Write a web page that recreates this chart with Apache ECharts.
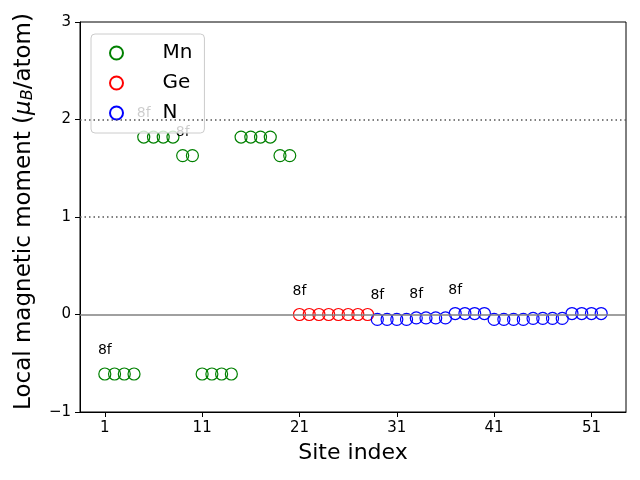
<!DOCTYPE html>
<html>
<head>
<meta charset="utf-8">
<script src="https://cdn.jsdelivr.net/npm/echarts@6/dist/echarts.min.js"></script>
<style>html,body{margin:0;padding:0;background:#fff}#c{width:640px;height:480px}</style>
</head>
<body>
<div id="c"></div>
<script>
var mnSites = [1,2,3,4,5,6,7,8,9,10,11,12,13,14,15,16,17,18,19,20];
var mnValues = [-0.61,-0.61,-0.61,-0.61,1.82,1.82,1.82,1.82,1.63,1.63,-0.61,-0.61,-0.61,-0.61,1.82,1.82,1.82,1.82,1.63,1.63];
var geSites = [21,22,23,24,25,26,27,28];
var geValues = [0,0,0,0,0,0,0,0];
var nSites = [29,30,31,32,33,34,35,36,37,38,39,40,41,42,43,44,45,46,47,48,49,50,51,52];
var nValues = [-0.05,-0.05,-0.05,-0.05,-0.035,-0.035,-0.035,-0.035,0.01,0.01,0.01,0.01,-0.05,-0.05,-0.05,-0.05,-0.04,-0.04,-0.04,-0.04,0.01,0.01,0.01,0.01];
var labelSites = [1,5,9,21,29,33,37];
var labelText = '8f';
var xTicks = [1,11,21,31,41,51];
var refLines = [1,2];

var FONT = 'DejaVu Sans';
function build(sites, vals){
  return sites.map(function(s,i){
    var d = {value:[s, vals[i]]};
    if (labelSites.indexOf(s) >= 0) {
      d.label = {show:true, formatter: labelText, position:'top', distance:10,
        color:'#000', fontSize:14, fontFamily:FONT, opacity:1};
    }
    return d;
  });
}
function ser(name, color, sites, vals, extra){
  var s = {
    name: name, type:'scatter', symbol:'circle', symbolSize:12,
    itemStyle:{color:'rgba(0,0,0,0)', borderColor:color, borderWidth:1.2, opacity:1},
    emphasis:{disabled:true},
    data: build(sites, vals)
  };
  if (extra) for (var k in extra) s[k] = extra[k];
  return s;
}
var chart = echarts.init(document.getElementById('c'), null, {renderer:'canvas'});
chart.setOption({
  animation:false,
  backgroundColor:'#fff',
  grid:{left:80, right:14, top:22, bottom:68, show:true, borderColor:'#000', borderWidth:1, backgroundColor:'transparent'},
  xAxis:{
    type:'value', min:-1.55, max:54.55,
    name:'Site index', nameLocation:'middle', nameGap:30,
    nameTextStyle:{fontSize:22, fontFamily:FONT, color:'#000'},
    axisLine:{show:true, onZero:false, lineStyle:{color:'#000', width:1}},
    axisTick:{show:true, length:5, lineStyle:{color:'#000'}, customValues:xTicks},
    axisLabel:{fontSize:15, fontFamily:FONT, color:'#000', margin:9, customValues:xTicks},
    splitLine:{show:false}
  },
  yAxis:{
    type:'value', min:-1, max:3, interval:1,
    name:'{n|Local magnetic moment (}{mu|μ}{sub|B}{n|/atom)}',
    nameLocation:'middle', nameGap:44, nameRotate:90,
    nameTextStyle:{fontSize:23, fontFamily:FONT, color:'#000', padding:[0,0,0,11],
      rich:{
        n:{fontSize:23, fontFamily:FONT, color:'#000', lineHeight:24, verticalAlign:'middle'},
        mu:{fontSize:23, fontFamily:FONT, fontStyle:'italic', color:'#000', lineHeight:24, verticalAlign:'middle'},
        sub:{fontSize:16, fontFamily:FONT, fontStyle:'italic', color:'#000', lineHeight:24, verticalAlign:'bottom', padding:[8,0,0,0]}
      }},
    axisLine:{show:true, onZero:false, lineStyle:{color:'#000', width:1}},
    axisTick:{show:true, length:5, lineStyle:{color:'#000'}},
    axisLabel:{fontSize:15, fontFamily:FONT, color:'#000', margin:9,
      formatter:function(v){ return v < 0 ? '\u2212' + Math.abs(v) : String(v); }},
    splitLine:{show:false}
  },
  legend:{
    orient:'vertical', left:91, top:34,
    data:['Mn','Ge','N'],
    itemWidth:24, itemHeight:13, itemGap:10,
    padding:[9,12,10,18],
    backgroundColor:'rgba(255,255,255,0.8)', borderColor:'#cccccc', borderWidth:1, borderRadius:4,
    textStyle:{fontSize:20, fontFamily:FONT, color:'#000', lineHeight:20, padding:[0,0,0,29]},
    selectedMode:false
  },
  series:[
    ser('Mn','#008000', mnSites, mnValues, {
      markLine:{
        silent:true, symbol:'none', label:{show:false}, animation:false,
        data:[
          {yAxis:0, lineStyle:{color:'#808080', width:1.5, type:'solid', opacity:1}}
        ].concat(refLines.map(function(v){ return {yAxis:v, lineStyle:{color:'#555555', width:1.5, type:[1.5,3], opacity:1}}; }))
      }
    }),
    ser('Ge','#ff0000', geSites, geValues),
    ser('N','#0000ff', nSites, nValues)
  ]
});
</script>
</body>
</html>
